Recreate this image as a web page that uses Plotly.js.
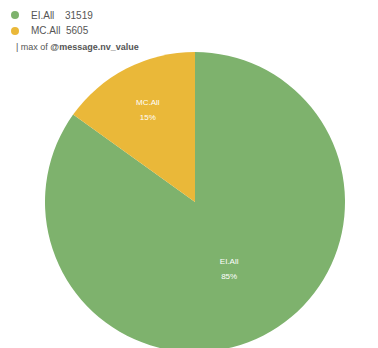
<!DOCTYPE html>
<html><head><meta charset="utf-8">
<script src="https://cdn.plot.ly/plotly-3.0.1.min.js"></script>
<style>html,body{margin:0;padding:0;overflow:hidden;background:#fff}</style>
</head><body><div id="chart" style="width:378px;height:356px"></div>
<script>
const labels = ["EI.All", "MC.All"];
const values = [31519, 5605];
const colors = ["#7eb26d", "#eab839"];
const legendLabels = ["EI.All", "MC.All"];
const legendValues = ["31519", "5605"];
const legendColors = ["#7eb26d", "#eab839"];

const W = 378, H = 356;
const L = 45, R = 33, T = 52, B = 4;
const pw = W - L - R, ph = H - T - B;
function px(x){ return (x - L) / pw; }
function py(y){ return 1 - (y - T) / ph; }

const font = "Liberation Sans, Arial, sans-serif";
const shapes = [], annotations = [];
const rowsY = [15, 31];
for (let i = 0; i < legendLabels.length; i++) {
  const y = rowsY[i];
  shapes.push({type:"circle", xref:"paper", yref:"paper", x0:px(11), x1:px(19), y0:py(y-4), y1:py(y+4), fillcolor:legendColors[i], line:{width:0}});
  annotations.push({xref:"paper", yref:"paper", x:px(29), y:py(y), xanchor:"left", yanchor:"middle", showarrow:false, text:legendLabels[i], font:{family:font, size:10, color:"#555"}});
  annotations.push({xref:"paper", yref:"paper", x:px(i===0?63:64), y:py(y), xanchor:"left", yanchor:"middle", showarrow:false, text:legendValues[i], font:{family:font, size:10, color:"#555"}});
}
annotations.push({xref:"paper", yref:"paper", x:px(14), y:py(47), xanchor:"left", yanchor:"middle", showarrow:false, text:"| max of <b>@message.nv_value</b>", font:{family:font, size:9, color:"#555"}});

Plotly.newPlot("chart", [{
  type:"pie", labels:labels, values:values, sort:false, direction:"counterclockwise", rotation:0,
  marker:{colors:colors, line:{width:0}},
  textinfo:"label+percent", textposition:"inside", insidetextorientation:"horizontal",
  texttemplate:"<span style='font-size:8px'>%{label}</span><br><span style='font-size:8px'>%{percent:.0%}</span>",
  textfont:{family:font, size:11.5, color:"#ffffff"},
  hoverinfo:"none", showlegend:false
}], {
  width:W, height:H, margin:{l:L, r:R, t:T, b:B, pad:0},
  paper_bgcolor:"#fff", showlegend:false, shapes:shapes, annotations:annotations
}, {staticPlot:true});
</script></body></html>
